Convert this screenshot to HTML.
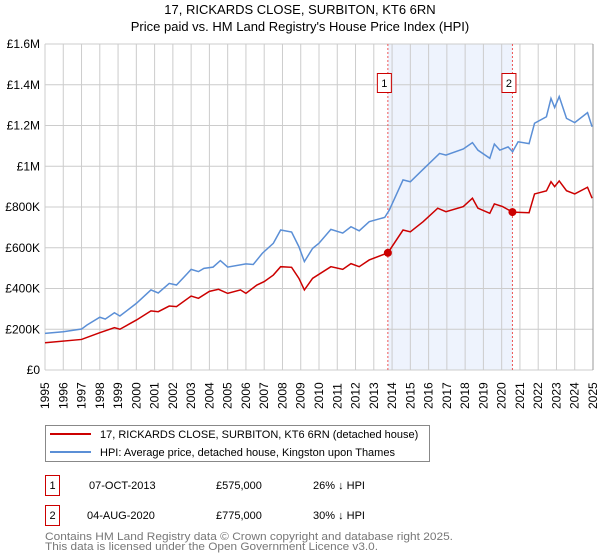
<!DOCTYPE html>
<html><head><meta charset="utf-8"><style>
body{margin:0;background:#fff;font-family:"Liberation Sans","DejaVu Sans",sans-serif;}
#wrap{position:relative;width:600px;height:560px;overflow:hidden;}
</style></head><body><div id="wrap">
<svg id="svg" width="600" height="560" style="position:absolute;left:0;top:0">
<text x="300" y="14" text-anchor="middle" font-size="13">17, RICKARDS CLOSE, SURBITON, KT6 6RN</text>
<text x="300" y="31" text-anchor="middle" font-size="13">Price paid vs. HM Land Registry's House Price Index (HPI)</text>
<g id="plot"></g>
<g>
<rect x="45.5" y="425.5" width="384" height="36" fill="#fff" stroke="#888"/>
<line x1="50" y1="434" x2="91" y2="434" stroke="#cc0000" stroke-width="2"/>
<text x="100" y="438" font-size="11">17, RICKARDS CLOSE, SURBITON, KT6 6RN (detached house)</text>
<line x1="50" y1="452" x2="91" y2="452" stroke="#5b8fd6" stroke-width="2"/>
<text x="100" y="456" font-size="11">HPI: Average price, detached house, Kingston upon Thames</text>
</g>
<g font-size="11">
<rect x="45.5" y="475.5" width="14" height="20" fill="#fff" stroke="#cc0000"/>
<text x="52.5" y="489" text-anchor="middle">1</text>
<text x="89" y="489">07-OCT-2013</text><text x="216" y="489">£575,000</text><text x="313" y="489">26% ↓ HPI</text>
<rect x="45.5" y="505.5" width="14" height="20" fill="#fff" stroke="#cc0000"/>
<text x="52.5" y="519" text-anchor="middle">2</text>
<text x="87" y="519">04-AUG-2020</text><text x="216" y="519">£775,000</text><text x="313" y="519">30% ↓ HPI</text>
</g>
</svg>
</div>
<script>
const years=[1995,1996,1997,1998,1999,2000,2001,2002,2003,2004,2005,2006,2007,2008,2009,2010,2011,2012,2013,2014,2015,2016,2017,2018,2019,2020,2021,2022,2023,2024,2025];
const yTicks=[0,200000,400000,600000,800000,1000000,1200000,1400000,1600000];
const yTickLabels=["£0","£200K","£400K","£600K","£800K","£1M","£1.2M","£1.4M","£1.6M"];
const hpiT=[1995.0,1996.0,1997.0,1997.3,1998.0,1998.3,1998.8,1999.1,2000.0,2000.8,2001.2,2001.8,2002.2,2002.8,2003.0,2003.4,2003.7,2004.2,2004.6,2005.0,2006.0,2006.4,2006.9,2007.5,2007.9,2008.5,2008.9,2009.2,2009.65,2010.0,2010.65,2011.3,2011.75,2012.2,2012.75,2013.6,2013.85,2014.6,2015.0,2015.7,2016.6,2016.95,2017.9,2018.4,2018.7,2019.35,2019.6,2019.9,2020.35,2020.6,2020.9,2021.5,2021.8,2022.45,2022.7,2022.9,2023.15,2023.55,2024.0,2024.7,2024.95];
const hpiV=[180,188,201,221,259,250,281,265,327,393,378,425,417,474,494,483,499,505,537,505,521,518,573,622,687,677,605,532,597,622,690,672,703,683,728,749,785,933,924,985,1063,1055,1085,1116,1079,1039,1109,1079,1095,1071,1120,1111,1211,1243,1333,1288,1342,1235,1214,1263,1194];
const redT=[1995.0,1997.0,1998.0,1998.8,1999.1,2000.0,2000.8,2001.2,2001.8,2002.2,2003.0,2003.4,2004.0,2004.5,2005.0,2005.7,2006.0,2006.6,2007.0,2007.5,2007.9,2008.5,2008.9,2009.2,2009.65,2010.65,2011.3,2011.75,2012.2,2012.75,2013.77,2014.6,2015.0,2015.7,2016.5,2016.95,2017.9,2018.4,2018.7,2019.35,2019.6,2020.05,2020.59,2021.5,2021.8,2022.45,2022.7,2022.9,2023.15,2023.55,2024.0,2024.7,2024.95];
const redV=[134,150,183,208,200,245,290,286,314,311,363,352,386,396,376,393,376,417,434,466,507,504,450,393,450,507,494,522,507,540,575,687,678,728,794,777,802,843,794,769,815,802,775,772,864,879,924,900,928,880,864,897,843];
const saleT=[2013.77,2020.59];
const saleV=[575,775];
const saleLabels=["1","2"];
const L=45,R=593,T=44,B=370;
const X=y=>L+(y-1995)*(R-L)/30;
const Y=v=>B-v*(B-T)/1600000;
const NS="http://www.w3.org/2000/svg";
const g=document.getElementById('plot');
function mk(tag,at,parent){const e=document.createElementNS(NS,tag);for(const k in at)e.setAttribute(k,at[k]);(parent||g).appendChild(e);return e;}
let shade=mk('rect',{x:X(saleT[0]),y:T,width:X(saleT[1])-X(saleT[0]),height:B-T,fill:'#eef3fd'});


yTicks.forEach((v,i)=>{
 let l=mk('line',{x1:L,x2:R,y1:Y(v),y2:Y(v),stroke:'#cccccc','stroke-width':1});
 
 
 let t=mk('text',{x:40,y:Y(v)+4,'text-anchor':'end','font-size':12});
 t.textContent=yTickLabels[i];
 
 
});
years.forEach(yr=>{
 let l=mk('line',{x1:X(yr),x2:X(yr),y1:T,y2:B,stroke:'#cccccc','stroke-width':1});
 
 
 let t=mk('text',{x:0,y:0,'font-size':12,transform:`translate(${X(yr)+4},409) rotate(-90)`});
 t.textContent=yr;
 
 
});
mk('line',{x1:R,x2:R,y1:T,y2:B,stroke:'#999','stroke-width':1});
saleT.forEach((s,i)=>{
 let l=mk('line',{x1:X(s),x2:X(s),y1:T,y2:B,stroke:'#ee5555','stroke-width':1,'stroke-dasharray':'2,2'});
 
 
 let r=mk('rect',{x:X(s)-10.5,y:73.5,width:14,height:19,fill:'#fff',stroke:'#cc0000'});
 
 
 let t=mk('text',{x:X(s)-3.5,y:87,'text-anchor':'middle','font-size':11});
 t.textContent=saleLabels[i];
 
 
});
let hp=mk('polyline',{points:hpiT.map((t,i)=>X(t)+','+Y(hpiV[i]*1000)).join(' '),fill:'none',stroke:'#5b8fd6','stroke-width':1.5});


let rp=mk('polyline',{points:redT.map((t,i)=>X(t)+','+Y(redV[i]*1000)).join(' '),fill:'none',stroke:'#cc0000','stroke-width':1.5});


saleT.forEach((s,i)=>{
 let c=mk('circle',{cx:X(s),cy:Y(saleV[i]*1000),r:4,fill:'#cc0000'});
 
 
});
const svg=document.getElementById('svg');
[["Contains HM Land Registry data © Crown copyright and database right 2025.",540,408],["This data is licensed under the Open Government Licence v3.0.",550,333]].forEach(([s,y,w])=>{
 let t=mk('text',{x:45,y:y,'font-size':11,fill:'#777',textLength:w,lengthAdjust:'spacingAndGlyphs'},svg);
 t.textContent=s;
 
 
});
</script></body></html>
